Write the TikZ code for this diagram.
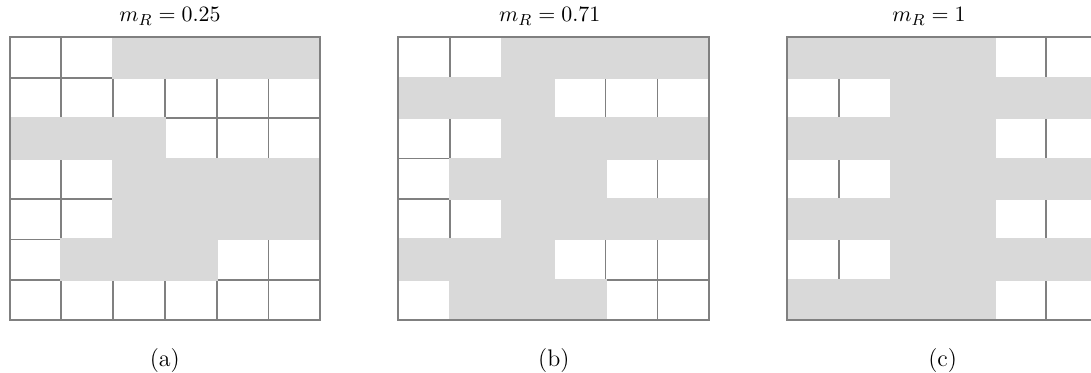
\documentclass[tikz,border=0pt]{standalone}
\usepackage{amsmath}

\definecolor{gridgray}{RGB}{128,128,128}
\definecolor{cellgray}{RGB}{217,217,217}

\tikzset{
  gridline/.style={draw=gridgray, line width=0.85pt},
  frameline/.style={draw=gridgray, line width=1pt},
  cellfill/.style={fill=cellgray},
  titletext/.style={font=\fontsize{11}{13}\selectfont, anchor=base, inner sep=0pt},
  captext/.style={font=\fontsize{12}{14}\selectfont, anchor=base, inner sep=0pt},
}

\newcommand\cellw{51.8}
\newcommand\cellh{40.43}

% One 6x7 lattice: thin grid, shaded cells (1) hiding the inner lines, outer frame on top.
\newcommand\drawpanel[2]{%
  \begin{scope}[shift={(#1,37.3)}]
    \foreach \i in {1,...,5} \draw[gridline] (\i*\cellw,0) -- (\i*\cellw,7*\cellh);
    \foreach \j in {1,...,6} \draw[gridline] (0,\j*\cellh) -- (6*\cellw,\j*\cellh);
    \begin{scope}
      \clip (0,0) rectangle (6*\cellw,7*\cellh);
      \foreach \rowvals [count=\r from 0] in {#2} {
        \foreach \v [count=\c from 0] in \rowvals {
          \ifnum\v=1
            \fill[cellfill] ({\c*\cellw-1},{\r*\cellh-1}) rectangle ({(\c+1)*\cellw+1},{(\r+1)*\cellh+1});
          \fi
        }
      }
    \end{scope}
    \draw[frameline] (0,0) rectangle (6*\cellw,7*\cellh);
  \end{scope}}

\begin{document}
\begin{tikzpicture}[x=0.5pt, y=-0.5pt]
  \useasboundingbox (0,0) rectangle (1091,373);
  \clip (0,0) rectangle (1091,373);

  % (a)
  \drawpanel{9.5}{{0,0,1,1,1,1},{0,0,0,0,0,0},{1,1,1,0,0,0},{0,0,1,1,1,1},{0,0,1,1,1,1},{0,1,1,1,0,0},{0,0,0,0,0,0}}
  % (b)
  \drawpanel{398.4}{{0,0,1,1,1,1},{1,1,1,0,0,0},{0,0,1,1,1,1},{0,1,1,1,0,0},{0,0,1,1,1,1},{1,1,1,0,0,0},{0,1,1,1,0,0}}
  % (c)
  \drawpanel{787.3}{{1,1,1,1,0,0},{0,0,1,1,1,1},{1,1,1,1,0,0},{0,0,1,1,1,1},{1,1,1,1,0,0},{0,0,1,1,1,1},{1,1,1,1,0,0}}

  \node[titletext] (ta) at (170,21.7) {$m_R = 0.25$};
  \node[titletext] (tb) at (549.7,21.7) {$m_R = 0.71$};
  \node[titletext] (tc) at (929,21.7) {$m_R = 1$};

  \node[captext] (la) at (164.8,366) {(a)};
  \node[captext] (lb) at (553.8,366) {(b)};
  \node[captext] (lc) at (942.7,366) {(c)};
\end{tikzpicture}
\end{document}
